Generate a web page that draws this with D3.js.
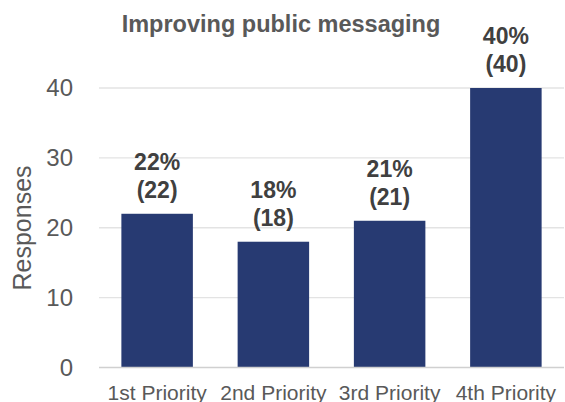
<!DOCTYPE html>
<html>
<head>
<meta charset="utf-8">
<script src="https://cdn.jsdelivr.net/npm/d3@7"></script>
<style>
  body { margin: 0; background: #fff; }
  svg { display: block; font-family: Arial, "Liberation Sans", sans-serif; }
</style>
</head>
<body>
<svg id="chart" width="565" height="402"></svg>
<script>
// chart data
var categories = ['1st Priority', '2nd Priority', '3rd Priority', '4th Priority']
var responses = [22, 18, 21, 40]
var percents = ['22%', '18%', '21%', '40%']
var yTicks = [0, 10, 20, 30, 40]

var svg = d3.select('#chart')
var plotLeft = 99, plotRight = 564, plotTop = 88, plotBottom = 367.5

var x = d3.scaleBand()
  .domain(categories)
  .range([plotLeft, plotRight])
  .paddingInner(0.385)
  .paddingOuter(0.1925)

var y = d3.scaleLinear()
  .domain([0, 40])
  .range([plotBottom, plotTop])

// gridlines
svg.append('g')
  .selectAll('line')
  .data(yTicks.filter(function (d) { return d > 0 }))
  .enter().append('line')
  .attr('x1', plotLeft).attr('x2', plotRight)
  .attr('y1', function (d) { return y(d) }).attr('y2', function (d) { return y(d) })
  .attr('stroke', '#e3e3e3')
  .attr('stroke-width', 1.3)

// y axis labels
var yAxis = svg.append('g')
  .attr('transform', 'translate(' + (plotLeft - 26) + ',0)')
  .call(d3.axisLeft(y).tickValues(yTicks).tickSize(0).tickPadding(0))
yAxis.select('.domain').remove()
yAxis.selectAll('text')
  .attr('fill', '#595959')
  .style('font-size', '24px')

// bars
svg.append('g')
  .selectAll('rect')
  .data(responses)
  .enter().append('rect')
  .attr('x', function (d, i) { return x(categories[i]) })
  .attr('y', function (d) { return y(d) })
  .attr('width', x.bandwidth())
  .attr('height', function (d) { return y(0) - y(d) })
  .attr('fill', '#273a72')

// baseline
svg.append('line')
  .attr('x1', plotLeft).attr('x2', plotRight)
  .attr('y1', y(0)).attr('y2', y(0))
  .attr('stroke', '#d0d0d0')
  .attr('stroke-width', 1.5)

// x axis labels
var xAxis = svg.append('g')
  .attr('transform', 'translate(0,' + y(0) + ')')
  .call(d3.axisBottom(x).tickSize(0).tickPadding(0))
xAxis.select('.domain').remove()
xAxis.selectAll('text')
  .attr('dy', null)
  .attr('y', 32)
  .attr('fill', '#595959')
  .style('font-size', '21px')

// data labels
var labels = svg.append('g')
  .selectAll('text')
  .data(responses)
  .enter().append('text')
  .attr('text-anchor', 'middle')
  .attr('fill', '#404040')
  .style('font-size', '23px')
  .style('font-weight', 'bold')
labels.append('tspan')
  .attr('x', function (d, i) { return x(categories[i]) + x.bandwidth() / 2 })
  .attr('y', function (d) { return y(d) - 44 })
  .text(function (d, i) { return percents[i] })
labels.append('tspan')
  .attr('x', function (d, i) { return x(categories[i]) + x.bandwidth() / 2 })
  .attr('y', function (d) { return y(d) - 16 })
  .text(function (d) { return '(' + d + ')' })

// title
svg.append('text')
  .attr('x', 281)
  .attr('y', 32)
  .attr('text-anchor', 'middle')
  .attr('fill', '#595959')
  .style('font-size', '23.5px')
  .style('font-weight', 'bold')
  .text('Improving public messaging')

// y axis title
svg.append('text')
  .attr('transform', 'translate(31,228) rotate(-90)')
  .attr('text-anchor', 'middle')
  .attr('fill', '#595959')
  .style('font-size', '25px')
  .text('Responses')
</script>
</body>
</html>
